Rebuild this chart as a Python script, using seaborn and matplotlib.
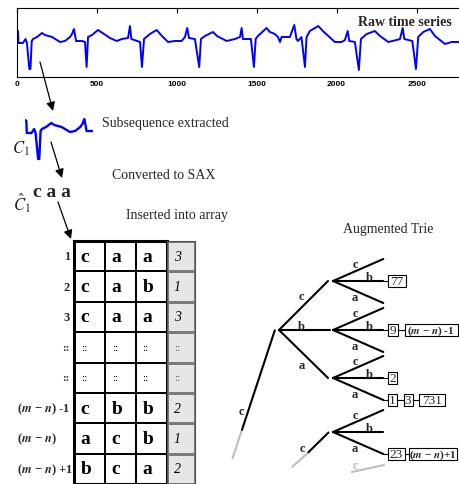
import numpy as np
import pandas as pd
import matplotlib
matplotlib.use('Agg')
import matplotlib.pyplot as plt
import matplotlib.transforms as mtransforms
from matplotlib.colors import ListedColormap
from matplotlib.patches import Rectangle
import seaborn as sns

# -- data --
# raw ECG-like time series: sample index and amplitude
raw_t = [0, 8, 11, 39, 55, 64, 79, 86, 94, 102, 127, 158, 177, 221, 271, 302, 333, 346, 358, 368,
         371, 410, 427, 437, 446, 471, 508, 546, 583, 625, 658, 696, 708, 717, 771, 783, 796, 833,
         875, 908, 946, 989, 1031, 1052, 1066, 1077, 1114, 1141, 1152, 1177, 1227, 1252, 1312,
         1364, 1396, 1406, 1414, 1464, 1483, 1494, 1508, 1562, 1583, 1614, 1633, 1646, 1656, 1708,
         1735, 1749, 1758, 1780, 1802, 1812, 1833, 1885, 1914, 1989, 2031, 2052, 2069, 2079, 2114,
         2139, 2152, 2188, 2239, 2271, 2323, 2375, 2396, 2413, 2423, 2473, 2496, 2510, 2542, 2583,
         2615, 2677, 2719, 2765]
raw_v = [47, 46, 34, 34, 38, 34, 8, 8, 36, 38, 40, 44, 42, 40, 35, 36, 40, 43, 48, 39,
         36, 36, 35, 10, 40, 42, 47, 43, 39, 36, 38, 39, 51, 38, 35, 10, 38, 43,
         47, 41, 35, 36, 36, 40, 49, 39, 38, 10, 38, 41, 45, 41, 36,
         38, 40, 49, 38, 38, 10, 38, 41, 49, 45, 43, 40, 35, 40, 40,
         52, 38, 36, 40, 10, 40, 46, 51, 46, 35, 35, 37, 46, 36, 35,
         7, 38, 43, 46, 41, 35, 37, 38, 49, 38, 36, 8, 40, 45, 48,
         41, 33, 35, 35]
x_ticks = [0, 500, 1000, 1500, 2000, 2500]
sub_end = 410  # length of the extracted subsequence C1

sax_word = 'c a a'

row_labels = ['1', '2', '3', '::', '::',
              r'($\boldsymbol{m}$ − $\boldsymbol{n}$) -1',
              r'($\boldsymbol{m}$ − $\boldsymbol{n}$)',
              r'($\boldsymbol{m}$ − $\boldsymbol{n}$) +1']
sax_rows = [['c', 'a', 'a'],
            ['c', 'a', 'b'],
            ['c', 'a', 'a'],
            ['::', '::', '::'],
            ['::', '::', '::'],
            ['c', 'b', 'b'],
            ['a', 'c', 'b'],
            ['b', 'c', 'a']]
counts = ['3', '1', '3', '::', '::', '2', '1', '2']

# trie: second level nodes (name, y) and the leaf lists hanging off them
trie_nodes = [('cc', 282), ('cb', 331), ('ca', 379), ('xc', 433)]
M1 = r'($\boldsymbol{m}$ − $\boldsymbol{n}$) -1'
P1 = r'($\boldsymbol{m}$ − $\boldsymbol{n}$)+1'
trie_leaves = {('cc', 'b'): ['77'],
               ('cb', 'b'): ['9', M1],
               ('ca', 'b'): ['2'],
               ('ca', 'a'): ['1', '3', '731'],
               ('xc', 'a'): ['23', P1]}
box_width = {'77': 18, '9': 10, '2': 9, '1': 9, '3': 9, '731': 26, '23': 17, M1: 53, P1: 48}

# -- style --
sns.set_style('white')
plt.rcParams['font.family'] = ['Liberation Serif', 'DejaVu Serif']
plt.rcParams['mathtext.fontset'] = 'stix'

W, H = 459, 485
fig = plt.figure(figsize=(W / 100, H / 100), dpi=100)


def px_axes(left, top, right, bottom, **kw):
    return fig.add_axes([left / W, 1 - bottom / H, (right - left) / W, (bottom - top) / H], **kw)


# raw time series
df = pd.DataFrame({'t': raw_t, 'v': raw_v})
ax_raw = px_axes(16.7, 9, 459, 78)
sns.lineplot(data=df, x='t', y='v', ax=ax_raw, color='#0000ff', lw=1.4, estimator=None, sort=False)
ax_raw.set_xlim(0, 2765)
ax_raw.set_ylim(0, 69)
ax_raw.set_xticks(x_ticks)
ax_raw.set_yticks([])
ax_raw.set_xlabel('')
ax_raw.set_ylabel('')
ax_raw.tick_params(axis='x', direction='in', top=True, length=3.5, width=0.8,
                   labelsize=6, pad=2, colors='black')
for lab in ax_raw.get_xticklabels():
    lab.set_fontfamily('Liberation Sans')
    lab.set_fontweight('bold')
for name, sp in ax_raw.spines.items():
    sp.set_color('black')
    sp.set_linewidth(0.8)
ax_raw.spines['right'].set_visible(False)

# extracted subsequence C1
ax_sub = px_axes(25, 99, 93, 168)
sns.lineplot(data=df[df['t'] <= sub_end], x='t', y='v', ax=ax_sub, color='#0000ff', lw=1.7,
             estimator=None, sort=False)
ax_sub.set_xlim(0, sub_end)
ax_sub.set_ylim(0, 69)
ax_sub.axis('off')

# SAX array as heatmaps
ax_tab = px_axes(74, 242, 166.7, 485)
sns.heatmap(np.zeros((8, 3)), annot=np.array(sax_rows), fmt='', cmap=ListedColormap(['white']),
            cbar=False, linewidths=1.3, linecolor='black', xticklabels=False, yticklabels=False,
            annot_kws={'fontsize': 14, 'fontweight': 'bold', 'color': 'black'}, ax=ax_tab)
for txt in ax_tab.texts:
    x, y = txt.get_position()
    txt.set_ha('left')
    txt.set_x(x - 0.5 + 0.22)
    if txt.get_text() == '::':
        txt.set_fontsize(8)
        txt.set_fontweight('normal')
for sp in ax_tab.spines.values():
    sp.set_visible(True)
    sp.set_linewidth(2.2)
    sp.set_color('black')

ax_cnt = px_axes(166.7, 242, 195, 485)
sns.heatmap(np.zeros((8, 1)), annot=np.array(counts).reshape(8, 1), fmt='',
            cmap=ListedColormap(['#e6e6e6']), cbar=False, linewidths=0.8, linecolor='#7a7a7a',
            xticklabels=False, yticklabels=False,
            annot_kws={'fontsize': 10, 'fontstyle': 'italic', 'color': 'black'}, ax=ax_cnt)
for txt in ax_cnt.texts:
    x, y = txt.get_position()
    txt.set_ha('left')
    txt.set_x(x - 0.5 + 0.25)
    if txt.get_text() == '::':
        txt.set_fontsize(8)
        txt.set_fontstyle('normal')
        txt.set_color('#555555')
for sp in ax_cnt.spines.values():
    sp.set_visible(True)
    sp.set_linewidth(0.8)
    sp.set_color('#555555')

trans = mtransforms.blended_transform_factory(ax_tab.transAxes, ax_tab.transData)
for i, lab in enumerate(row_labels):
    if lab.startswith('('):
        ax_tab.text(-0.615, i + 0.5, lab, transform=trans, ha='left', va='center',
                    fontsize=9, fontweight='bold', clip_on=False)
    else:
        ax_tab.text(-0.045, i + 0.5, lab, transform=trans, ha='right', va='center',
                    fontsize=9 if lab != '::' else 8, fontweight='bold', clip_on=False)

# overlay in pixel coordinates for text, arrows and the trie
ax_o = fig.add_axes([0, 0, 1, 1], zorder=5)
ax_o.set_xlim(0, W)
ax_o.set_ylim(H, 0)
ax_o.axis('off')
ax_o.patch.set_alpha(0)

ax_o.text(358, 22, 'Raw time series', fontsize=10, fontweight='bold', va='center')
ax_o.text(102, 123, 'Subsequence extracted', fontsize=10, va='center')
ax_o.text(112, 176, 'Converted to SAX', fontsize=10, va='center')
ax_o.text(126, 216, 'Inserted into array', fontsize=10, va='center')
ax_o.text(343, 230, 'Augmented Trie', fontsize=10, va='center')
ax_o.text(12, 149, r'$C_{\mathit{1}}$', fontsize=12, va='center')
ax_o.text(13, 203, r'$\hat{C}_{\mathit{1}}$', fontsize=12, va='center')
ax_o.text(33, 197, sax_word, fontsize=14, fontweight='bold', va='baseline')

arrow_kw = dict(arrowstyle='-|>', color='black', lw=0.9, mutation_scale=13, shrinkA=0, shrinkB=0)
for start, end in [((40, 63), (53, 112)), ((51, 143), (62, 179)), ((58, 203), (71, 240))]:
    ax_o.annotate('', xy=end, xytext=start, arrowprops=arrow_kw)

black, grey = 'black', '#bdbdbd'
lw = 1.5
# root edge
ax_o.plot([232.3, 241.7], [460, 431.7], color=grey, lw=lw, solid_capstyle='butt')
ax_o.plot([241.7, 275], [431.7, 330.7], color=black, lw=lw, solid_capstyle='butt')
ax_o.text(241.5, 412, 'c', fontsize=9, fontweight='bold', ha='center', va='center')
# first level branches
ax_o.plot([279, 328], [331, 282], color=black, lw=lw)
ax_o.plot([279, 330], [331, 331], color=black, lw=lw)
ax_o.plot([279, 328], [331, 379], color=black, lw=lw)
ax_o.text(301.7, 297, 'c', fontsize=9, fontweight='bold', ha='center', va='center')
ax_o.text(301.7, 330, 'b', fontsize=9, fontweight='bold', ha='center', va='baseline')
ax_o.text(302, 366, 'a', fontsize=9, fontweight='bold', ha='center', va='center')
# lower sub-trie entry
ax_o.plot([329, 307.7], [433, 454], color=black, lw=lw, solid_capstyle='butt')
ax_o.plot([307.7, 291.7], [454, 468.3], color=grey, lw=lw, solid_capstyle='butt')
ax_o.text(302.3, 449.3, 'c', fontsize=9, fontweight='bold', ha='center', va='center')
ax_o.plot([352, 384], [473, 466], color=grey, lw=lw)
ax_o.text(355, 466, 'c', fontsize=9, fontweight='bold', ha='center', va='center', color=grey)

# second level branches and leaf lists
for name, y in trie_nodes:
    for sym, dy in [('c', -22), ('b', 0), ('a', 22)]:
        ax_o.plot([333, 383.3], [y, y + dy], color=black, lw=lw)
    ax_o.text(355, y - 17, 'c', fontsize=9, fontweight='bold', ha='center', va='center')
    ax_o.text(369, y - 1, 'b', fontsize=9, fontweight='bold', ha='center', va='baseline')
    ax_o.text(355, y + 16, 'a', fontsize=9, fontweight='bold', ha='center', va='center')
    for sym, dy in [('b', 0), ('a', 22)]:
        boxes = trie_leaves.get((name, sym))
        if not boxes:
            continue
        yb = y + dy
        x = 388
        centers = []
        for lab in boxes:
            w = box_width[lab]
            ax_o.add_patch(Rectangle((x, yb - 6.3), w, 12.6, facecolor='white', edgecolor='black',
                                     lw=0.8, zorder=3))
            bold = lab.startswith('(')
            ax_o.text(x + w / 2, yb + 0.3, lab, fontsize=8 if bold else 9.5,
                      fontweight='bold' if bold else 'normal', ha='center', va='center', zorder=4)
            centers.append(x + w / 2)
            x += w + (4 if lab == '23' else 6.5)
        ax_o.plot([383.3, centers[-1]], [yb, yb], color=black, lw=0.8, zorder=2)

fig.savefig('out.png', dpi=100)
